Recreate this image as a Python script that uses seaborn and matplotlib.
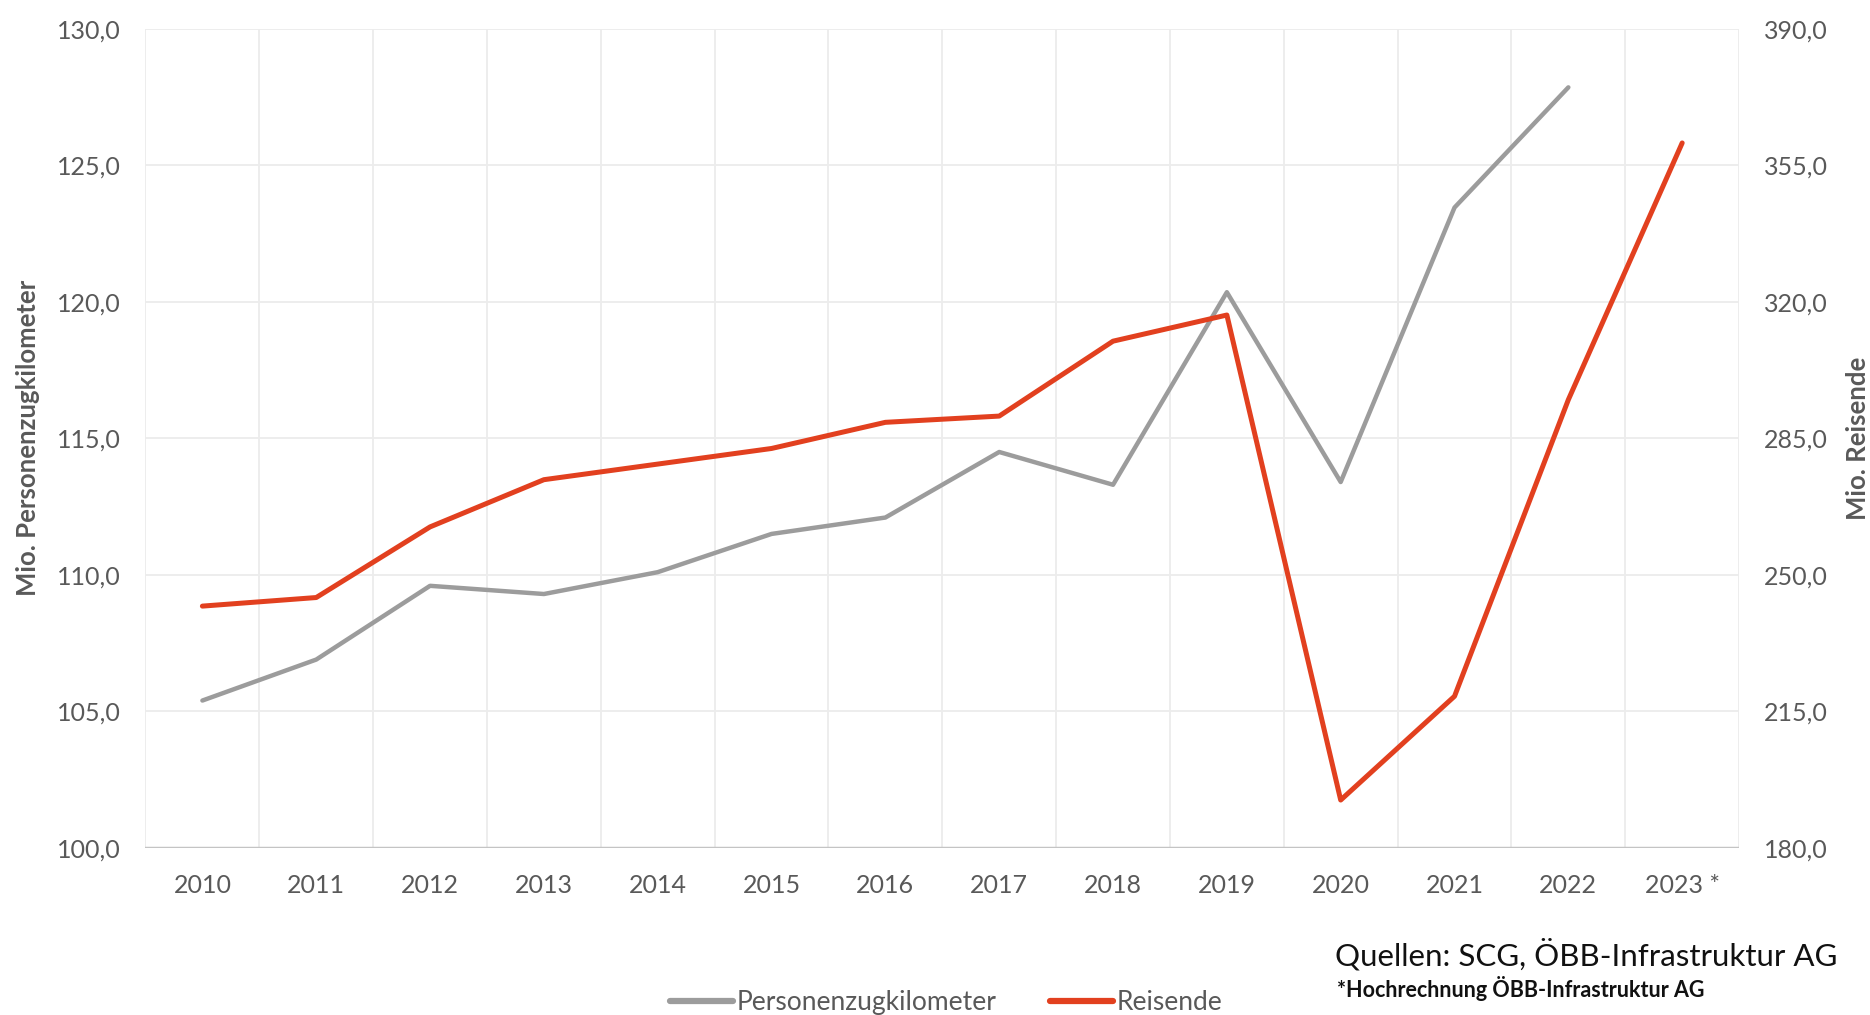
import matplotlib
matplotlib.use("Agg")
import matplotlib.pyplot as plt
import seaborn as sns
import pandas as pd
from matplotlib.lines import Line2D

# Jahre (2023 = Hochrechnung)
years = ["2010", "2011", "2012", "2013", "2014", "2015", "2016",
         "2017", "2018", "2019", "2020", "2021", "2022", "2023 *"]

# Mio. Personenzugkilometer (linke Achse)
pkm = [105.4, 106.9, 109.6, 109.3, 110.1, 111.5, 112.1,
       114.5, 113.3, 120.35, 113.4, 123.45, 127.85]

# Mio. Reisende (rechte Achse)
reisende = [242.0, 244.2, 262.3, 274.4, 278.4, 282.4, 289.1,
            290.7, 309.9, 316.6, 192.3, 218.9, 294.9, 360.7]

left_ticks = [100, 105, 110, 115, 120, 125, 130]
right_ticks = [180, 215, 250, 285, 320, 355, 390]

GRAY = "#9c9c9c"
RED = "#e2401f"
TXT = "#595959"

sns.set_theme(style="white")
plt.rcParams["font.family"] = ["Lato", "DejaVu Sans"]

fig = plt.figure(figsize=(18.7, 10.15), dpi=100)
ax = fig.add_axes([0.0778, 0.1645, 0.8522, 0.8073])
ax2 = ax.twinx()

df_pkm = pd.DataFrame({"Jahr": years[:len(pkm)], "Wert": pkm})
df_rei = pd.DataFrame({"Jahr": years, "Wert": reisende})

# Kategorienachse festlegen (alle Jahre)
ax.plot(years, [float("nan")] * len(years))

sns.lineplot(data=df_pkm, x="Jahr", y="Wert", ax=ax, color=GRAY,
             linewidth=3.2, sort=False, zorder=3)
sns.lineplot(data=df_rei, x="Jahr", y="Wert", ax=ax2, color=RED,
             linewidth=3.6, sort=False, zorder=3)

n = len(years)
ax.set_xlim(-0.5, n - 0.5)
ax.set_ylim(100, 130)
ax2.set_ylim(180, 390)

ax.set_yticks(left_ticks)
ax.set_yticklabels([f"{v:.1f}".replace(".", ",") for v in left_ticks])
ax2.set_yticks(right_ticks)
ax2.set_yticklabels([f"{v:.1f}".replace(".", ",") for v in right_ticks])

# Gitterlinien: horizontal je 5, vertikal zwischen den Kategorien
for y in left_ticks[1:]:
    ax.axhline(y, color="#ececec", linewidth=1.3, zorder=0)
for i in range(n + 1):
    ax.axvline(i - 0.5, color="#ececec", linewidth=1.3, zorder=0)
ax.axhline(100, color="#c4c4c4", linewidth=2.5, zorder=2)

for a in (ax, ax2):
    for s in a.spines.values():
        s.set_visible(False)
    a.tick_params(axis="both", length=0, labelsize=18, colors=TXT)
    a.grid(False)

ax.tick_params(axis="x", pad=19)
ax.tick_params(axis="y", pad=18)
ax2.tick_params(axis="y", pad=18)

ax.set_xlabel("")
ax.set_ylabel("Mio. Personenzugkilometer", fontsize=18.5, fontweight="bold",
              color=TXT, labelpad=12)
ax2.set_ylabel("Mio. Reisende", fontsize=18.5, fontweight="bold",
               color=TXT, labelpad=13)

handles = [Line2D([], [], color=GRAY, linewidth=4.5),
           Line2D([], [], color=RED, linewidth=4.5)]
fig.legend(handles, ["Personenzugkilometer", "Reisende"],
           loc="center", bbox_to_anchor=(0.506, 0.012), ncol=2,
           frameon=False, fontsize=19, handlelength=2.4, handletextpad=0.15,
           columnspacing=2.0, labelcolor=TXT)

fig.text(0.714, 0.06, "Quellen: SCG, ÖBB-Infrastruktur AG", fontsize=22.5,
         color="#111111", ha="left", va="center")
fig.text(0.715, 0.026, "*Hochrechnung ÖBB-Infrastruktur AG", fontsize=15.5,
         color="#111111", fontweight="bold", ha="left", va="center")

fig.savefig("out.png", dpi=100)
